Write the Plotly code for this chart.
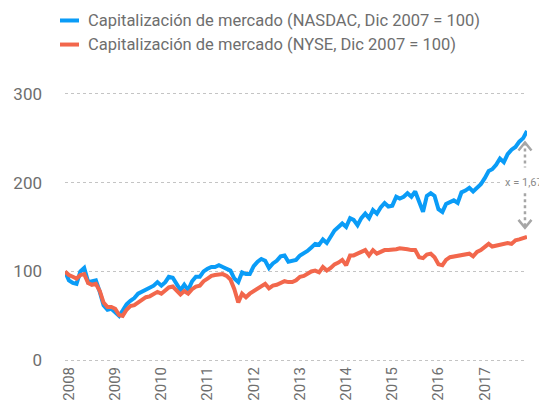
import pandas as pd
import plotly.graph_objects as go

# Monthly index, Dec 2007 = 100
start_month = "2007-12-01"
end_month = "2017-12-01"

nasdaq = [
    100,
    90, 87, 86, 100, 104, 88, 89, 90, 77, 62, 57, 58,          # 2008
    54, 50, 56, 63, 67, 70, 75, 77, 80, 81, 84, 88,            # 2009
    84, 88, 94, 93, 86, 79, 85, 79, 89, 94, 94, 100,           # 2010
    103, 105, 105, 107, 105, 103, 101, 92, 88, 99, 97, 97,     # 2011
    106, 111, 114, 112, 104, 109, 112, 117, 118, 111, 112, 113, # 2012
    118, 120, 123, 127, 131, 130, 136, 132, 140, 146, 150, 154, # 2013
    150, 160, 158, 152, 160, 165, 160, 169, 165, 172, 177, 173, # 2014
    174, 184, 182, 184, 188, 184, 190, 178, 167, 185, 188, 185, # 2015
    170, 167, 176, 178, 180, 177, 189, 191, 194, 190, 194, 198, # 2016
    205, 213, 215, 220, 227, 223, 232, 237, 240, 246, 250, 258, # 2017
]

nyse = [
    100,
    96, 94, 92, 96, 97, 87, 85, 86, 78, 65, 60, 60,            # 2008
    58, 51, 50, 57, 61, 62, 65, 68, 71, 72, 74, 77,            # 2009
    75, 78, 82, 83, 78, 74, 78, 75, 80, 83, 84, 89,            # 2010
    92, 95, 96, 97, 97, 95, 91, 80, 65, 75, 71, 75,            # 2011
    78, 81, 84, 86, 81, 84, 85, 87, 89, 88, 88, 90,            # 2012
    94, 95, 98, 100, 101, 99, 105, 101, 104, 108, 110, 113,    # 2013
    107, 118, 118, 120, 121, 124, 118, 124, 120, 122, 124, 124, # 2014
    124, 125, 126, 126, 125, 124, 124, 116, 115, 119, 120, 116, # 2015
    108, 107, 113, 116, 117, 117, 119, 120, 120, 117, 122, 124, # 2016
    127, 131, 128, 129, 130, 132, 132, 131, 135, 136, 137, 139, # 2017
]

tick_years = ["2008", "2009", "2010", "2011", "2012", "2013", "2014", "2015", "2016", "2017"]
y_ticks = [0, 100, 200, 300]
ratio_label = "x = 1,67"

name_nasdaq = "Capitalización de mercado (NASDAC, Dic 2007 = 100)"
name_nyse = "Capitalización de mercado (NYSE, Dic 2007 = 100)"

months_ts = pd.date_range(start_month, end_month, freq="MS")
months = [d.strftime("%Y-%m-%d") for d in months_ts]

BLUE = "#0a9cf7"
RED = "#f2674c"
GREY = "#a6a6a6"
TXT = "#6e6e6e"
FONT = "Roboto"

# the page body adds an 8px offset; size the figure so it fills the window
OFF = 8
W, H = 547 - OFF, 408 - OFF
ML, MR = 65 - OFF, 20
MT, MB = 91.34 - OFF, 408 - 362.66
PW, PH = W - ML - MR, H - MT - MB
Y_RANGE = [-3, 303]


def px_x(px):  # window px -> paper
    return (px - OFF - ML) / PW


def px_y(py):  # window px -> paper
    return (H - MB - (py - OFF)) / PH


def val_y(v):  # data value -> paper
    return (v - Y_RANGE[0]) / (Y_RANGE[1] - Y_RANGE[0])


def date_x(ts):  # date -> paper
    return (ts - months_ts[0]) / (months_ts[-1] - months_ts[0])


fig = go.Figure()
fig.add_trace(go.Scatter(x=months, y=nasdaq, mode="lines", name=name_nasdaq,
                         line=dict(color=BLUE, width=4)))
fig.add_trace(go.Scatter(x=months, y=nyse, mode="lines", name=name_nyse,
                         line=dict(color=RED, width=4)))

# ratio arrow between the series ends (paper-referenced so it is not clipped)
ax = date_x(months_ts[-1] - pd.Timedelta(days=16))
top_tip = val_y(nasdaq[-1] - 13)
bot_tip = val_y(nyse[-1] + 10)
gap_hi = val_y(217)
gap_lo = val_y(188)
hw = 6.5 / PW
hh = 8 / PH
arrow_line = dict(color=GREY, width=2.5)
fig.add_shape(type="line", xref="paper", yref="paper", x0=ax, x1=ax, y0=top_tip, y1=gap_hi,
              line=dict(color=GREY, width=2.5, dash="dot"))
fig.add_shape(type="line", xref="paper", yref="paper", x0=ax, x1=ax, y0=gap_lo, y1=bot_tip,
              line=dict(color=GREY, width=2.5, dash="dot"))
fig.add_shape(type="path", xref="paper", yref="paper",
              path=f"M{ax - hw},{top_tip - hh} L{ax},{top_tip} L{ax + hw},{top_tip - hh}",
              line=arrow_line)
fig.add_shape(type="path", xref="paper", yref="paper",
              path=f"M{ax - hw},{bot_tip + hh} L{ax},{bot_tip} L{ax + hw},{bot_tip + hh}",
              line=arrow_line)

fig.add_annotation(xref="paper", yref="y", x=px_x(546), y=200, text=ratio_label,
                   showarrow=False, xanchor="right", yanchor="middle",
                   bgcolor="white", borderpad=2,
                   font=dict(family=FONT, size=11, color="#8a8a8a"))

# legend drawn by hand
for name, color, py in [(name_nasdaq, BLUE, 21), (name_nyse, RED, 45)]:
    fig.add_shape(type="line", xref="paper", yref="paper",
                  x0=px_x(60), x1=px_x(79), y0=px_y(py), y1=px_y(py),
                  line=dict(color=color, width=4))
    fig.add_annotation(xref="paper", yref="paper", x=px_x(86), y=px_y(py),
                       text=name, showarrow=False, xanchor="left", yanchor="middle",
                       font=dict(family=FONT, size=16.5, color=TXT))

tick_vals = [f"{y}-01-01" for y in tick_years]

fig.update_layout(
    width=W, height=H,
    margin=dict(l=ML, r=MR, t=MT, b=MB, autoexpand=False),
    paper_bgcolor="white", plot_bgcolor="white",
    font=dict(family=FONT, color=TXT),
    showlegend=False,
    xaxis=dict(type="date", range=[months[0], months[-1]], tickmode="array", tickvals=tick_vals,
               ticktext=tick_years, tickangle=-90, showgrid=False, zeroline=False,
               showline=False, ticks="", tickfont=dict(family=FONT, size=15, color=TXT)),
    yaxis=dict(range=Y_RANGE, tickmode="array", tickvals=y_ticks,
               showgrid=True, gridcolor="#c4c4c4", griddash="dot", gridwidth=1,
               zeroline=False, showline=False, ticks="", ticklabelstandoff=22,
               tickfont=dict(family=FONT, size=17, color=TXT)),
)

fig.write_html("out.html")
